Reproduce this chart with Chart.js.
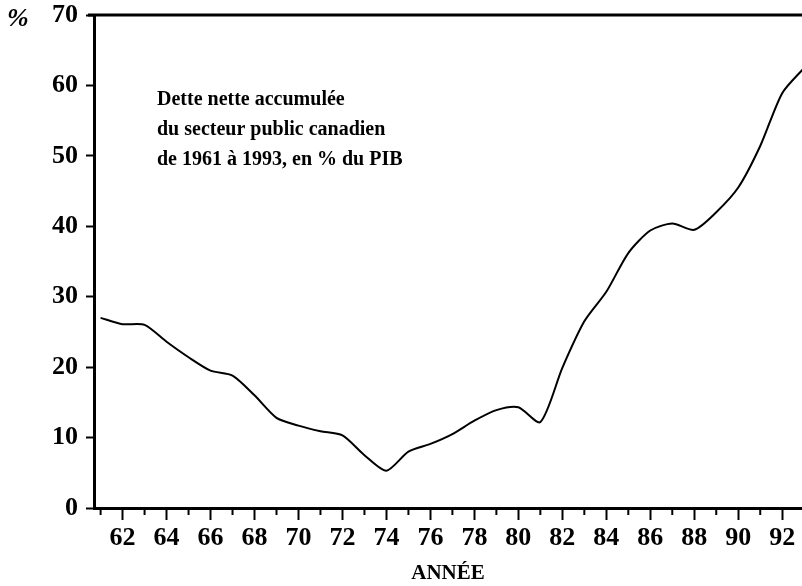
<!DOCTYPE html>
<html>
<head>
<meta charset="utf-8">
<script src="https://cdn.jsdelivr.net/npm/chart.js@4"></script>
<style>
  html, body { margin: 0; padding: 0; background: #fff; }
  #wrap { width: 802px; height: 586px; }
</style>
</head>
<body>
<div id="wrap"><canvas id="c"></canvas></div>
<script>
// Dette nette accumulée du secteur public canadien, % du PIB
const years = [61, 62, 63, 64, 65, 66, 67, 68, 69, 70, 71, 72, 73, 74, 75, 76, 77,
               78, 79, 80, 81, 82, 83, 84, 85, 86, 87, 88, 89, 90, 91, 92, 93];
const debt = [27.0, 26.1, 26.0, 23.6, 21.4, 19.5, 18.8, 16.0, 12.8, 11.7, 10.9, 10.3, 7.5,
              5.3, 8.0, 9.1, 10.5, 12.4, 13.9, 14.3, 12.2, 19.9, 26.5, 30.7, 36.2, 39.4,
              40.4, 39.5, 42.0, 45.5, 51.4, 58.9, 62.5];
const yTicks = [0, 10, 20, 30, 40, 50, 60, 70];
const xLabelYears = [62, 64, 66, 68, 70, 72, 74, 76, 78, 80, 82, 84, 86, 88, 90, 92];
const titleLines = ['Dette nette accumulée', 'du secteur public canadien', 'de 1961 à 1993, en % du PIB'];

const serif = '"Liberation Serif", "DejaVu Serif", serif';

// frame top line, minor year ticks, % sign and caption
const decor = {
  id: 'decor',
  afterDraw(chart) {
    const ctx = chart.ctx;
    const a = chart.chartArea;
    const xs = chart.scales.x;
    ctx.save();
    ctx.strokeStyle = '#000';
    ctx.lineWidth = 3;
    ctx.beginPath();
    ctx.moveTo(a.left - 6, a.top);
    ctx.lineTo(a.right, a.top);
    ctx.stroke();

    ctx.lineWidth = 2;
    years.forEach(function (y) {
      if (xLabelYears.indexOf(y) >= 0) return;
      const px = xs.getPixelForValue(y);
      if (px < a.left || px > a.right) return;
      ctx.beginPath();
      ctx.moveTo(px, a.bottom);
      ctx.lineTo(px, a.bottom + 7);
      ctx.stroke();
    });

    ctx.fillStyle = '#000';
    ctx.font = 'italic bold 26px ' + serif;
    ctx.textBaseline = 'middle';
    ctx.textAlign = 'left';
    ctx.fillText('%', 7, a.top + 4);

    ctx.font = 'bold 20px ' + serif;
    titleLines.forEach(function (t, i) {
      ctx.fillText(t, 157, 100 + i * 30);
    });
    ctx.restore();
  }
};

new Chart(document.getElementById('c'), {
  type: 'line',
  data: {
    datasets: [{
      data: years.map((y, i) => ({ x: y, y: debt[i] })),
      borderColor: '#000',
      borderWidth: 2,
      pointRadius: 0,
      tension: 0.25,
      fill: false
    }]
  },
  options: {
    responsive: true,
    maintainAspectRatio: false,
    animation: false,
    layout: { padding: { top: 15, right: 0, left: 0, bottom: 0 } },
    plugins: { legend: { display: false }, tooltip: { enabled: false } },
    scales: {
      x: {
        type: 'linear',
        min: 60.7,
        max: 92.9,
        afterBuildTicks: s => { s.ticks = xLabelYears.map(v => ({ value: v })); },
        afterFit: s => { s.height = 78; s.paddingLeft = 0; s.paddingRight = 0; },
        border: { display: true, color: '#000', width: 3 },
        grid: { drawOnChartArea: false, drawTicks: true, tickLength: 12, tickColor: '#000', tickWidth: 2 },
        ticks: {
          color: '#000',
          padding: 3,
          maxRotation: 0,
          autoSkip: false,
          font: { family: serif, size: 26, weight: 'bold' },
          callback: v => String(v)
        },
        title: {
          display: true,
          text: 'ANNÉE',
          color: '#000',
          padding: { top: 8, bottom: 0 },
          font: { family: serif, size: 21, weight: 'bold' }
        }
      },
      y: {
        min: 0,
        max: 70,
        afterBuildTicks: s => { s.ticks = yTicks.map(v => ({ value: v })); },
        afterFit: s => { s.width = 94; s.paddingTop = 0; s.paddingBottom = 0; },
        border: { display: true, color: '#000', width: 3 },
        grid: { drawOnChartArea: false, drawTicks: true, tickLength: 8, tickColor: '#000', tickWidth: 2 },
        ticks: {
          color: '#000',
          padding: 8,
          font: { family: serif, size: 26, weight: 'bold' }
        }
      }
    }
  },
  plugins: [decor]
});
</script>
</body>
</html>
